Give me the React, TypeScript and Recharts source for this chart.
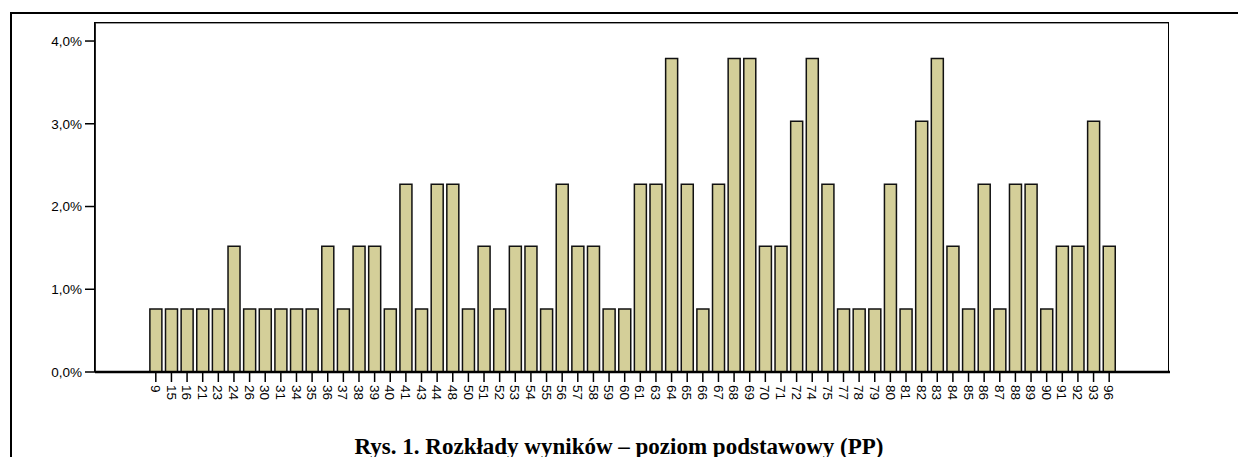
import { BarChart, Bar, XAxis, YAxis } from 'recharts';

const scores = [
  '9', '15', '16', '21', '23', '24', '26', '30', '31', '34',
  '35', '36', '37', '38', '39', '40', '41', '43', '44', '48',
  '50', '51', '52', '53', '54', '55', '56', '57', '58', '59',
  '60', '61', '63', '64', '65', '66', '67', '68', '69', '70',
  '71', '72', '74', '75', '77', '78', '79', '80', '81', '82',
  '83', '84', '85', '86', '87', '88', '89', '90', '91', '92',
  '93', '96',
];

// percent of students per score
const percents = [
  0.76, 0.76, 0.76, 0.76, 0.76, 1.52, 0.76, 0.76, 0.76, 0.76,
  0.76, 1.52, 0.76, 1.52, 1.52, 0.76, 2.27, 0.76, 2.27, 2.27,
  0.76, 1.52, 0.76, 1.52, 1.52, 0.76, 2.27, 1.52, 1.52, 0.76,
  0.76, 2.27, 2.27, 3.79, 2.27, 0.76, 2.27, 3.79, 3.79, 1.52,
  1.52, 3.03, 3.79, 2.27, 0.76, 0.76, 0.76, 2.27, 0.76, 3.03,
  3.79, 1.52, 0.76, 2.27, 0.76, 2.27, 2.27, 0.76, 1.52, 1.52,
  3.03, 1.52,
];

const yTicks = [0, 1, 2, 3, 4];

const title = 'Rys. 1. Rozkłady wyników – poziom podstawowy (PP)';

const data = scores.map((s, i) => ({ score: s, pct: percents[i] }));

const axisFont = { fontFamily: '"Liberation Sans", Arial, sans-serif', fontSize: 13.5, fill: '#000' };

const RotatedTick = (props: any) => {
  const { x, y, payload } = props;
  return (
    <g transform={`translate(${x},${y}) rotate(90)`}>
      <text x={0} y={0} dy="0.36em" textAnchor="start" style={axisFont}>
        {payload.value}
      </text>
    </g>
  );
};

export default function App() {
  return (
    <div style={{ position: 'absolute', left: 0, top: 0, width: 1238, height: 457, background: '#fff', overflow: 'hidden' }}>
      <div
        style={{
          position: 'absolute',
          left: 10,
          top: 12,
          width: 1240,
          height: 460,
          borderTop: '2px solid #000',
          borderLeft: '2px solid #000',
        }}
      />
      {/* plot frame */}
      <div
        style={{
          position: 'absolute',
          left: 94,
          top: 22,
          width: 1075,
          height: 350,
          border: '1.5px solid #000',
          boxShadow: 'inset 1px 1px 0 #999',
          boxSizing: 'border-box',
        }}
      />
      <div style={{ position: 'absolute', left: 0, top: 0 }}>
        <BarChart
          width={1238}
          height={457}
          data={data}
          margin={{ top: 22, right: 68, left: 0, bottom: 45 }}
          barCategoryGap="12%"
        >
          <XAxis
            dataKey="score"
            interval={0}
            padding={{ left: 53, right: 53 }}
            height={40}
            tickSize={10}
            tickMargin={3}
            tick={<RotatedTick />}
            axisLine={{ stroke: '#000', strokeWidth: 2.5 }}
            tickLine={{ stroke: '#000', strokeWidth: 1.5 }}
          />
          <YAxis
            width={95}
            domain={[0, 4.23]}
            ticks={yTicks}
            tickSize={10}
            tickMargin={3}
            tick={axisFont}
            tickFormatter={(v: number) => v.toFixed(1).replace('.', ',') + '%'}
            axisLine={{ stroke: '#000', strokeWidth: 1.5 }}
            tickLine={{ stroke: '#000', strokeWidth: 1.5 }}
          />
          <Bar
            dataKey="pct"
            fill="#d4cf99"
            stroke="#111"
            strokeWidth={1.5}
            isAnimationActive={false}
          />
        </BarChart>
      </div>
      <div
        style={{
          position: 'absolute',
          left: 0,
          width: 1238,
          top: 435,
          lineHeight: '23px',
          textAlign: 'center',
          fontFamily: '"Liberation Serif", "Times New Roman", serif',
          fontWeight: 'bold',
          fontSize: 23,
          color: '#000',
          whiteSpace: 'nowrap',
        }}
      >
        {title}
      </div>
    </div>
  );
}
